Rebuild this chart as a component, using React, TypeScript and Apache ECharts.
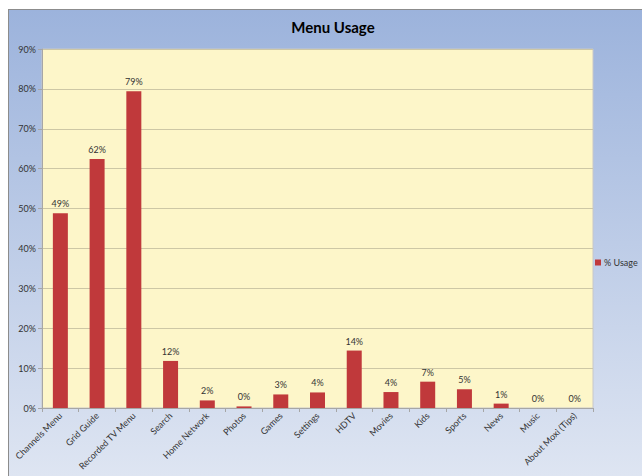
import React, { useEffect, useRef } from "react";
import * as echarts from "echarts";

const categories = [
  "Channels Menu",
  "Grid Guide",
  "Recorded TV Menu",
  "Search",
  "Home Network",
  "Photos",
  "Games",
  "Settings",
  "HDTV",
  "Movies",
  "Kids",
  "Sports",
  "News",
  "Music",
  "About Moxi (Tips)",
];
const usage = [48.8, 62.4, 79.4, 11.8, 1.9, 0.4, 3.4, 3.9, 14.4, 4.0, 6.6, 4.7, 1.1, 0, 0];
const seriesName = "% Usage";
const titleText = "Menu Usage";

const FONT = "Lato, 'Open Sans', sans-serif";

export default function App() {
  const ref = useRef<HTMLDivElement>(null);
  useEffect(() => {
    if (!ref.current) return;
    const chart = echarts.init(ref.current, undefined, { renderer: "svg" });
    chart.setOption({
      animation: false,
      backgroundColor: new echarts.graphic.LinearGradient(0, 0, 0, 1, [
        { offset: 0, color: "#9cb3dc" },
        { offset: 1, color: "#dee5f2" },
      ]),
      textStyle: { fontFamily: FONT },
      graphic: [
        {
          type: "text",
          x: 324,
          y: 17,
          style: {
            text: titleText,
            font: `bold 15px ${FONT}`,
            fill: "#000",
            textAlign: "center",
            textVerticalAlign: "middle",
          },
        },
      ],
      legend: {
        left: 581,
        top: 243,
        itemWidth: 6,
        itemHeight: 6,
        itemGap: 3,
        icon: "rect",
        textStyle: { fontSize: 9, color: "#333", fontFamily: FONT, padding: [0, 0, 0, -2] },
        data: [seriesName],
      },
      grid: {
        left: 33,
        top: 39,
        right: 49,
        bottom: 68,
        show: true,
        backgroundColor: "#fdf6c9",
        borderColor: "#c8c8c8",
        borderWidth: 1,
      },
      xAxis: {
        type: "category",
        data: categories,
        axisLine: { lineStyle: { color: "#a6a6a6" } },
        axisTick: { show: true, alignWithLabel: false, length: 4, lineStyle: { color: "#a6a6a6" } },
        axisLabel: {
          rotate: 45,
          interval: 0,
          fontSize: 9,
          color: "#333",
          fontFamily: FONT,
          margin: 6,
        },
      },
      yAxis: {
        type: "value",
        min: 0,
        max: 90,
        interval: 10,
        axisLine: { show: true, lineStyle: { color: "#a6a6a6" } },
        axisTick: { show: true, length: 4, lineStyle: { color: "#a6a6a6" } },
        axisLabel: {
          fontSize: 9,
          color: "#333",
          fontFamily: FONT,
          margin: 6,
          formatter: (v: number) => `${v}%`,
        },
        splitLine: { lineStyle: { color: "#cdc7a5" } },
      },
      series: [
        {
          name: seriesName,
          type: "bar",
          data: usage,
          barWidth: 15,
          itemStyle: { color: "#c0393b" },
          label: {
            show: true,
            position: "top",
            distance: 5,
            fontSize: 9,
            color: "#333",
            fontFamily: FONT,
            formatter: (p: any) => `${Math.round(p.value)}%`,
          },
        },
      ],
    });
    return () => chart.dispose();
  }, []);
  return (
    <div
      style={{
        position: "absolute",
        left: 8,
        top: 9,
        width: 634,
        height: 467,
        borderLeft: "1px solid #8c8c8c",
        borderTop: "1px solid #8c8c8c",
        boxSizing: "border-box",
        background: "#fff",
      }}
    >
      <div ref={ref} style={{ width: 633, height: 466 }} />
    </div>
  );
}
